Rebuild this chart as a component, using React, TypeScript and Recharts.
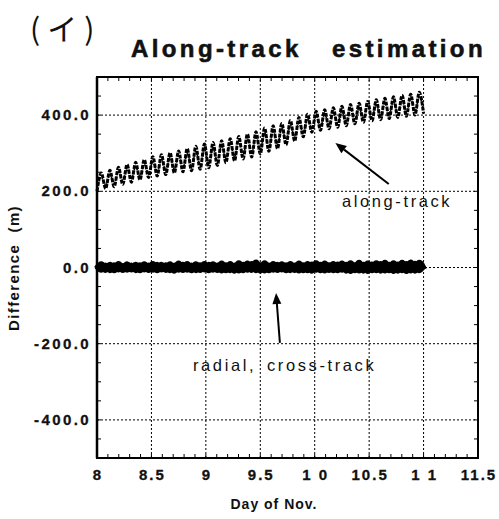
import { Line, LineChart, ReferenceLine, XAxis, YAxis } from 'recharts'

// samples are taken every half orbit, starting on Nov. 8
const dayStart = 8
const dayStep = 3 / 76

const alongTrack = [
  200, 248, 207, 255, 212, 263, 218, 270, 224, 276,
  230, 283, 236, 291, 240, 296, 244, 301, 248, 306,
  251, 312, 254, 318, 258, 324, 262, 328, 268, 333,
  275, 338, 280, 344, 285, 350, 290, 356, 298, 366,
  305, 372, 312, 378, 322, 386, 332, 394, 343, 402,
  355, 410, 360, 414, 364, 419, 368, 423, 372, 428,
  377, 431, 381, 436, 385, 440, 388, 444, 391, 448,
  394, 452, 397, 455, 400, 460, 404,
]

const alongTrackInner = [
  210, 236, 217, 243, 222, 251, 228, 258, 234, 264,
  240, 271, 246, 279, 250, 284, 254, 289, 258, 294,
  261, 300, 264, 306, 268, 312, 272, 316, 278, 321,
  285, 326, 290, 332, 295, 338, 300, 344, 308, 354,
  315, 360, 322, 366, 332, 374, 342, 382, 353, 390,
  365, 398, 370, 402, 374, 407, 378, 411, 382, 416,
  387, 419, 391, 424, 395, 428, 398, 432, 401, 436,
  404, 440, 407, 443, 410, 448, 414,
]

const radial = [
  -4, 7, -5, 6, -6, 8, -5, 7, -4, 6,
  -6, 7, -5, 8, -6, 6, -5, 7, -7, 9,
  -5, 8, -6, 7, -5, 8, -6, 7, -5, 9,
  -6, 8, -7, 10, -6, 9, -5, 12, -7, 10,
  -6, 8, -5, 7, -6, 8, -5, 9, -6, 8,
  -7, 10, -6, 9, -5, 8, -6, 9, -7, 10,
  -6, 11, -7, 9, -6, 10, -7, 11, -6, 10,
  -7, 11, -8, 12, -7, 11, -6,
]

const crossTrack = [
  3, -6, 5, -7, 6, -5, 4, -6, 5, -7,
  6, -5, 5, -6, 7, -5, 6, -7, 5, -6,
  7, -6, 5, -7, 6, -5, 7, -6, 5, -8,
  6, -7, 5, -8, 7, -6, 9, -7, 6, -8,
  5, -6, 7, -5, 6, -7, 5, -8, 6, -7,
  8, -6, 7, -8, 6, -7, 8, -6, 7, -9,
  6, -8, 7, -9, 8, -7, 9, -8, 7, -9,
  8, -7, 9, -8, 10, -7, 6,
]

const xTicks = [8, 8.5, 9, 9.5, 10, 10.5, 11, 11.5]
const xTickLabels = ['8', '8.5', '9', '9.5', '1 0', '10.5', '1 1', '11.5']
const yTicks = [-400, -200, 0, 200, 400]

const xMinorTicks = Array.from({ length: 36 }, (_, i) => +(8 + i * 0.1).toFixed(1))
const yMinorTicks = Array.from({ length: 21 }, (_, i) => -500 + i * 50)

const X_MIN = 8
const X_MAX = 11.5
const Y_MIN = -500
const Y_MAX = 500

const data = alongTrack.map((v, i) => ({
  day: dayStart + i * dayStep,
  along: v,
  alongInner: alongTrackInner[i],
  radial: radial[i],
  cross: crossTrack[i],
}))

// chart box and margins; the plot frame is derived from the same numbers
const W = 499
const H = 519
const MARGIN = { top: 77, right: 21, bottom: 31, left: 37 }
const Y_AXIS_W = 60
const X_AXIS_H = 30
const PLOT_L = MARGIN.left + Y_AXIS_W
const PLOT_R = W - MARGIN.right
const PLOT_T = MARGIN.top
const PLOT_B = H - MARGIN.bottom - X_AXIS_H
const toPx = (v: number) => PLOT_L + ((v - X_MIN) / (X_MAX - X_MIN)) * (PLOT_R - PLOT_L)
const toPy = (v: number) => PLOT_B - ((v - Y_MIN) / (Y_MAX - Y_MIN)) * (PLOT_B - PLOT_T)

const FONT = '"Liberation Sans", Arial, Helvetica, sans-serif'
const INK = '#111'
const TICK_LEN = 4

// inward minor ticks as one path per side
const tickPath = [
  ...xMinorTicks.map((t) => `M${toPx(t)} ${PLOT_B}V${PLOT_B - TICK_LEN}`),
  ...xMinorTicks.map((t) => `M${toPx(t)} ${PLOT_T}V${PLOT_T + TICK_LEN}`),
  ...yMinorTicks.map((t) => `M${PLOT_L} ${toPy(t)}H${PLOT_L + TICK_LEN}`),
  ...yMinorTicks.map((t) => `M${PLOT_R} ${toPy(t)}H${PLOT_R - TICK_LEN}`),
].join('')

const framePath = `M${PLOT_L} ${PLOT_T}H${PLOT_R}V${PLOT_B}H${PLOT_L}Z`

const XTick = (props: any) => {
  const { x, y, payload } = props
  const idx = xTicks.indexOf(payload.value)
  if (idx < 0) return <g />
  return (
    <text
      x={x + 1}
      y={y}
      textAnchor="middle"
      fontFamily={FONT}
      fontWeight="bold"
      fontSize={15}
      letterSpacing={2}
      fill={INK}
      stroke={INK}
      strokeWidth={0.3}
    >
      {xTickLabels[idx]}
    </text>
  )
}

const YTick = (props: any) => {
  const { x, y, payload } = props
  if (!yTicks.includes(payload.value)) return <g />
  return (
    <text
      x={x + 2}
      y={y + 5}
      textAnchor="end"
      fontFamily={FONT}
      fontWeight="bold"
      fontSize={15}
      letterSpacing={2.4}
      fill={INK}
      stroke={INK}
      strokeWidth={0.3}
    >
      {payload.value.toFixed(1)}
    </text>
  )
}

// arrow with a filled head at the (x2, y2) end
const Arrow = (props: any) => {
  const { x1, y1, x2, y2 } = props
  const a = Math.atan2(y2 - y1, x2 - x1)
  const len = 11
  const w = 4.5
  const bx = x2 - len * Math.cos(a)
  const by = y2 - len * Math.sin(a)
  const px = -Math.sin(a) * w
  const py = Math.cos(a) * w
  return (
    <g>
      <line x1={x1} y1={y1} x2={bx} y2={by} stroke="#000" strokeWidth={2} />
      <polygon
        points={`${x2},${y2} ${bx + px},${by + py} ${bx - px},${by - py}`}
        fill="#000"
      />
    </g>
  )
}

const gridStyle = { stroke: '#000', strokeWidth: 1, strokeDasharray: '2 2' }

export default function App() {
  return (
    <div
      style={{
        position: 'absolute',
        left: 0,
        top: 0,
        width: W,
        height: H,
        background: '#fff',
      }}
    >
      <LineChart width={W} height={H} data={data} margin={MARGIN}>
        <XAxis
          dataKey="day"
          type="number"
          domain={[X_MIN, X_MAX]}
          ticks={xTicks}
          interval={0}
          height={X_AXIS_H}
          axisLine={{ stroke: '#000', strokeWidth: 2 }}
          tickLine={false}
          tickSize={0}
          tickMargin={22}
          tick={XTick}
        />
        <YAxis
          type="number"
          domain={[Y_MIN, Y_MAX]}
          ticks={yTicks}
          interval={0}
          width={Y_AXIS_W}
          axisLine={{ stroke: '#000', strokeWidth: 2.5 }}
          tickLine={false}
          tickSize={0}
          tickMargin={8}
          tick={YTick}
        />

        {xTicks.slice(1, -1).map((t) => (
          <ReferenceLine key={`gx${t}`} x={t} {...gridStyle} />
        ))}
        {yTicks.map((t) => (
          <ReferenceLine key={`gy${t}`} y={t} {...gridStyle} />
        ))}

        <Line
          dataKey="along"
          type="monotone"
          stroke="#000"
          strokeWidth={3}
          strokeDasharray="4 1.2"
          dot={false}
          isAnimationActive={false}
        />
        <Line
          dataKey="alongInner"
          type="monotone"
          stroke="#000"
          strokeWidth={1.5}
          strokeDasharray="1.5 1.5"
          dot={false}
          isAnimationActive={false}
        />
        <Line
          dataKey="radial"
          type="monotone"
          stroke="#000"
          strokeWidth={7}
          dot={false}
          isAnimationActive={false}
        />
        <Line
          dataKey="cross"
          type="monotone"
          stroke="#000"
          strokeWidth={6}
          dot={false}
          isAnimationActive={false}
        />

        <ReferenceLine
          segment={[
            { x: 10.68, y: 219 },
            { x: 10.19, y: 327 },
          ]}
          ifOverflow="visible"
          shape={Arrow}
        />
        <ReferenceLine
          segment={[
            { x: 9.68, y: -198 },
            { x: 9.645, y: -67 },
          ]}
          ifOverflow="visible"
          shape={Arrow}
        />
      </LineChart>

      <svg
        width={W}
        height={H}
        style={{ position: 'absolute', left: 0, top: 0, pointerEvents: 'none' }}
      >
        <path d={tickPath} stroke="#000" strokeWidth={1} fill="none" />
        <path d={framePath} stroke="#000" strokeWidth={2} fill="none" />

        <text
          x={30}
          y={40}
          fontFamily='"Noto Sans CJK JP", sans-serif'
          fontSize={30}
          letterSpacing={7}
          fill={INK}
        >
          (イ)
        </text>
        <g
          fontFamily={FONT}
          fontWeight="bold"
          fontSize={24}
          letterSpacing={3.4}
          fill={INK}
          stroke={INK}
          strokeWidth={0.6}
        >
          <text x={131} y={57}>
            Along-track
          </text>
          <text x={486} y={57} textAnchor="end">
            estimation
          </text>
        </g>
        <text
          transform="translate(19 268) rotate(-90)"
          textAnchor="middle"
          fontFamily={FONT}
          fontWeight="bold"
          fontSize={15}
          letterSpacing={1.4}
          fill={INK}
        >
          Difference{'\u00a0\u00a0'}(m)
        </text>
        <text
          x={274}
          y={509}
          textAnchor="middle"
          fontFamily={FONT}
          fontWeight="bold"
          fontSize={14}
          letterSpacing={1}
          fill={INK}
        >
          Day of Nov.
        </text>
        <g fontFamily={FONT} fontSize={16.5} letterSpacing={2.6} fill={INK}>
          <text x={342} y={207}>
            along-track
          </text>
          <text x={193} y={371}>
            radial,
          </text>
          <text x={267} y={371}>
            cross-track
          </text>
        </g>
      </svg>
    </div>
  )
}
